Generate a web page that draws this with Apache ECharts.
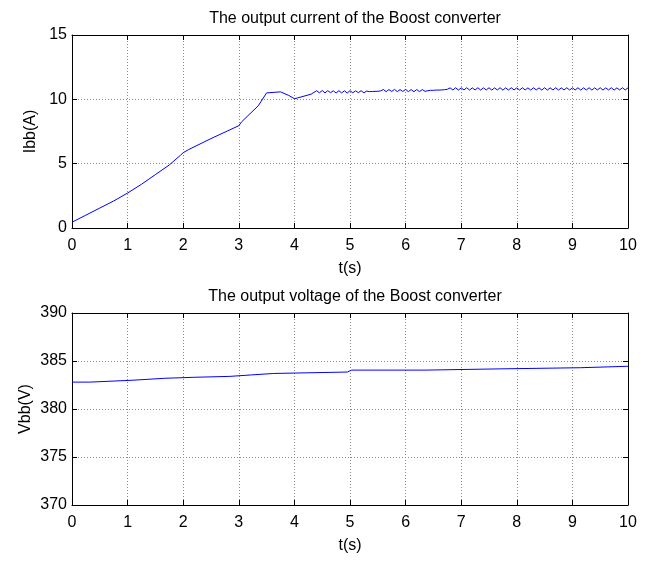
<!DOCTYPE html>
<html>
<head>
<meta charset="utf-8">
<script src="https://cdn.jsdelivr.net/npm/echarts@6/dist/echarts.min.js"></script>
<style>
  html, body { margin: 0; padding: 0; background: #fff; }
  #chart { width: 654px; height: 561px; }
</style>
</head>
<body>
<div id="chart"></div>
<script>
// Time ticks shared by both panels
const timeTicks = [0, 1, 2, 3, 4, 5, 6, 7, 8, 9, 10];
const currentTicks = [0, 5, 10, 15];
const voltageTicks = [370, 375, 380, 385, 390];

// Output current: start-up ramp and transient, as [t (s), I (A)]
const currentRamp = [
  [0.00, 0.45], [0.25, 1.00], [0.50, 1.55], [0.75, 2.10], [1.00, 2.72],
  [1.25, 3.40], [1.50, 4.15], [1.75, 4.90], [1.95, 5.65], [2.00, 5.85],
  [2.10, 6.10], [2.50, 6.95], [2.80, 7.55], [3.00, 7.95], [3.05, 8.25],
  [3.35, 9.50], [3.50, 10.50], [3.75, 10.58], [3.90, 10.30], [4.00, 10.05],
  [4.05, 10.10], [4.30, 10.40]
];

// Output current in steady state with switching ripple, sampled every 0.05 s from 4.4 s
const rippleStart = 4.4;
const rippleStep = 0.05;
const currentRipple = [
  10.67, 10.51, 10.68, 10.50, 10.67, 10.52, 10.66, 10.49, 10.67, 10.50,
  10.66, 10.49, 10.67, 10.51, 10.66, 10.52, 10.67, 10.51, 10.64, 10.60,
  10.61, 10.62, 10.62, 10.66, 10.76, 10.60, 10.76, 10.61, 10.77, 10.60,
  10.76, 10.61, 10.77, 10.60, 10.76, 10.59, 10.76, 10.60, 10.76, 10.62,
  10.67, 10.70, 10.70, 10.72, 10.72, 10.73, 10.75, 10.78, 10.89, 10.73,
  10.90, 10.72, 10.89, 10.73, 10.90, 10.72, 10.89, 10.73, 10.90, 10.72,
  10.89, 10.73, 10.90, 10.72, 10.89, 10.73, 10.90, 10.72, 10.89, 10.72,
  10.90, 10.73, 10.89, 10.72, 10.90, 10.73, 10.89, 10.72, 10.90, 10.73,
  10.89, 10.72, 10.90, 10.72, 10.89, 10.73, 10.90, 10.72, 10.89, 10.73,
  10.90, 10.72, 10.89, 10.73, 10.90, 10.72, 10.89, 10.73, 10.90, 10.72,
  10.89, 10.73, 10.90, 10.72, 10.89, 10.73, 10.90, 10.72, 10.89, 10.73,
  10.90, 10.73, 10.89
];

// Output voltage: slow stair-step rise, as [t (s), V (V)]
const voltageSteps = [
  [0.00, 382.80], [0.32, 382.80], [0.35, 383.00], [1.10, 383.00], [1.13, 383.20],
  [1.67, 383.20], [1.70, 383.30], [2.18, 383.30], [2.21, 383.40], [2.84, 383.40],
  [2.87, 383.55], [3.23, 383.55], [3.26, 383.70], [3.62, 383.70], [3.65, 383.85],
  [4.95, 383.85], [4.97, 383.78], [5.03, 384.05], [6.35, 384.05], [6.38, 384.18],
  [7.70, 384.18], [7.73, 384.30], [9.14, 384.30], [9.17, 384.45], [10.00, 384.45]
];

const currentSeries = currentRamp.concat(
  currentRipple.map((v, i) => [rippleStart + i * rippleStep, v])
);

const FONT = 'Liberation Sans, Arial, Helvetica, sans-serif';
const gridLine = { show: true, lineStyle: { color: '#8c8c8c', type: [1, 2], width: 1 } };
const tickIn = { show: true, inside: true, length: 5, lineStyle: { color: '#000', width: 1 } };
const axisLineBlack = { show: true, onZero: false, lineStyle: { color: '#000', width: 1 } };

function xAxes(gridIndex) {
  return [
    {
      type: 'value', gridIndex, min: 0, max: 10, interval: 1, position: 'bottom',
      name: 't(s)', nameLocation: 'middle', nameGap: 33, nameMoveOverlap: false,
      nameTextStyle: { color: '#000', fontSize: 16, fontFamily: FONT },
      axisLine: axisLineBlack, axisTick: tickIn, splitLine: gridLine,
      axisLabel: { color: '#000', fontSize: 16, fontFamily: FONT, margin: 10,
        customValues: timeTicks }
    },
    {
      type: 'value', gridIndex, min: 0, max: 10, interval: 1, position: 'top',
      axisLine: axisLineBlack, axisTick: tickIn, splitLine: { show: false },
      axisLabel: { show: false }
    }
  ];
}

function yAxes(gridIndex, min, max, ticks, name, gap) {
  return [
    {
      type: 'value', gridIndex, min, max, interval: 5, position: 'left',
      name, nameLocation: 'middle', nameGap: gap, nameRotate: 90, nameMoveOverlap: false,
      nameTextStyle: { color: '#000', fontSize: 16, fontFamily: FONT },
      axisLine: axisLineBlack, axisTick: tickIn, splitLine: gridLine,
      axisLabel: { color: '#000', fontSize: 16, fontFamily: FONT, margin: 5, customValues: ticks }
    },
    {
      type: 'value', gridIndex, min, max, interval: 5, position: 'right',
      axisLine: axisLineBlack, axisTick: tickIn, splitLine: { show: false },
      axisLabel: { show: false }
    }
  ];
}

const chart = echarts.init(document.getElementById('chart'), null, { renderer: 'canvas' });

chart.setOption({
  animation: false,
  backgroundColor: '#fff',
  title: [
    { text: 'The output current of the Boost converter', left: 350, top: 6, textAlign: 'center',
      textStyle: { color: '#000', fontSize: 16, fontWeight: 'normal', fontFamily: FONT } },
    { text: 'The output voltage of the Boost converter', left: 350, top: 284, textAlign: 'center',
      textStyle: { color: '#000', fontSize: 16, fontWeight: 'normal', fontFamily: FONT } }
  ],
  grid: [
    { left: 72, right: 26, top: 35, height: 193 },
    { left: 72, right: 26, top: 313, height: 192 }
  ],
  xAxis: xAxes(0).concat(xAxes(1)),
  yAxis: yAxes(0, 0, 15, currentTicks, 'Ibb(A)', 33).concat(yAxes(1, 370, 390, voltageTicks, 'Vbb(V)', 38)),
  series: [
    { type: 'line', xAxisIndex: 0, yAxisIndex: 0, data: currentSeries, showSymbol: false,
      lineStyle: { color: '#0000ff', width: 1 }, silent: true },
    { type: 'line', xAxisIndex: 2, yAxisIndex: 2, data: voltageSteps, showSymbol: false,
      lineStyle: { color: '#0000ff', width: 1 }, silent: true }
  ]
});
</script>
</body>
</html>
